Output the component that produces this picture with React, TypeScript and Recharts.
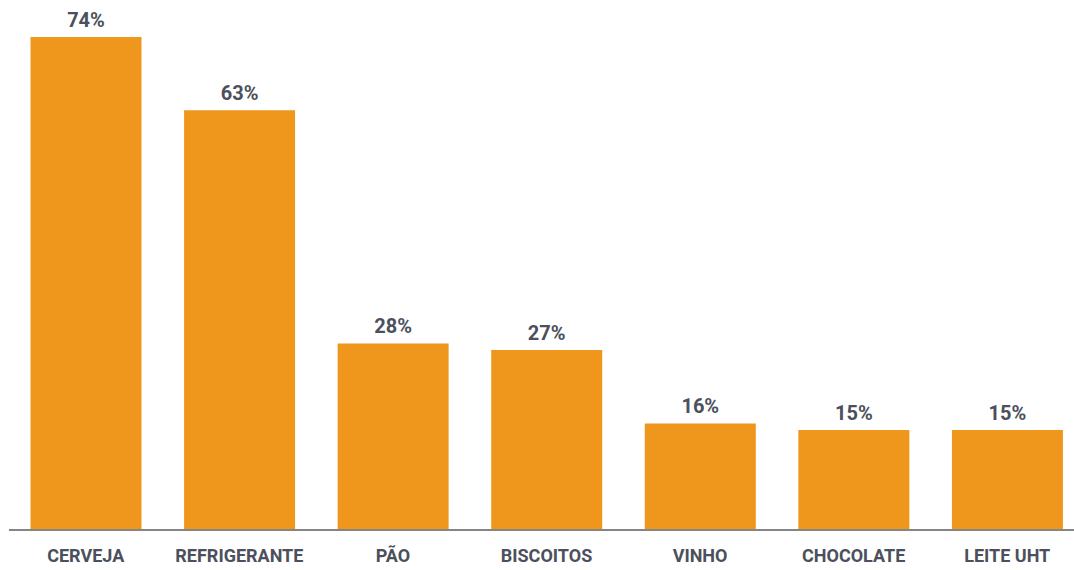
import React from 'react';
import { BarChart, Bar, XAxis, YAxis, LabelList } from 'recharts';

const categories = ['CERVEJA', 'REFRIGERANTE', 'PÃO', 'BISCOITOS', 'VINHO', 'CHOCOLATE', 'LEITE UHT'];
const shares = [74, 63, 28, 27, 16, 15, 15];

const data = categories.map((name, i) => ({ name, share: shares[i] }));

const textColor = '#4b505c';
const font = "Roboto, 'Open Sans', sans-serif";

const App: React.FC = () => {
  return (
    <div style={{ position: 'absolute', left: 0, top: 0, width: 1074, height: 570, overflow: 'hidden', background: '#fff' }}>
      <BarChart
        width={1084}
        height={570}
        data={data}
        margin={{ top: 37, right: 0, left: 9, bottom: 0 }}
        barCategoryGap='14%'
      >
        <XAxis
          dataKey='name'
          axisLine={{ stroke: '#858585', strokeWidth: 2 }}
          tickLine={false}
          tickSize={0}
          tickMargin={19}
          height={40}
          interval={0}
          tick={{ fill: textColor, fontSize: 18, fontWeight: 700, fontFamily: font }}
        />
        <YAxis hide domain={[0, 74]} />
        <Bar dataKey='share' fill='#ef961c' isAnimationActive={false}>
          <LabelList
            dataKey='share'
            position='top'
            offset={10}
            formatter={(v: number) => `${v}%`}
            style={{ fill: textColor, fontSize: 20, fontWeight: 700, fontFamily: font }}
          />
        </Bar>
      </BarChart>
    </div>
  );
};

export default App;
